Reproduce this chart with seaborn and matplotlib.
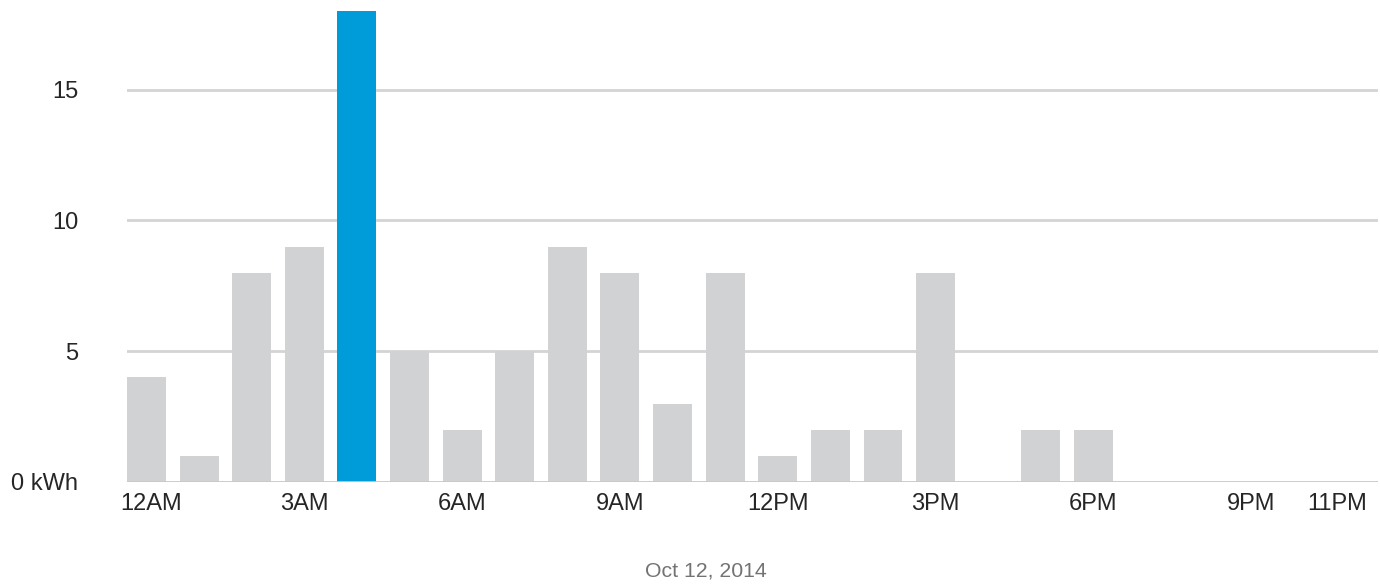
import matplotlib
matplotlib.use("Agg")
import matplotlib.pyplot as plt
import matplotlib.transforms as mtransforms
import seaborn as sns
import pandas as pd

hours = list(range(24))
kwh = [4, 1, 8, 9, 18, 5, 2, 5, 9, 8, 3, 8, 1, 2, 2, 8, 0, 2, 2, 0, 0, 0, 0, 0]
highlight_hour = 4
tick_hours = [0, 3, 6, 9, 12, 15, 18, 21, 23]
tick_labels = ["12AM", "3AM", "6AM", "9AM", "12PM", "3PM", "6PM", "9PM", "11PM"]
y_ticks = [0, 5, 10, 15]
y_labels = ["0 kWh", "5", "10", "15"]
date_label = "Oct 12, 2014"

GRAY = "#d1d2d4"
BLUE = "#009bd9"

sns.set_theme(style="white")
plt.rcParams["font.family"] = ["Liberation Sans", "DejaVu Sans"]

df = pd.DataFrame({"hour": [str(h) for h in hours], "kwh": kwh})
palette = {str(h): (BLUE if h == highlight_hour else GRAY) for h in hours}

fig = plt.figure(figsize=(13.8, 5.85), dpi=100)
ax = fig.add_axes([127 / 1380, 1 - 482 / 585, (1378 - 127) / 1380, (482 - 11) / 585])

sns.barplot(data=df, x="hour", y="kwh", hue="hour", palette=palette,
            legend=False, width=0.74, saturation=1, ax=ax, zorder=3,
            linewidth=0)

ax.set_xlim(-0.37, 23.41)
ax.set_ylim(0, 18)

for y in y_ticks[1:]:
    ax.axhline(y, color="#d4d4d6", lw=2, zorder=1)
ax.axhline(0, color="#c8c8ca", lw=2, zorder=4)

ax.set_yticks(y_ticks)
ax.set_yticklabels(y_labels, fontsize=17, color="#262626")
ax.tick_params(axis="y", length=0, pad=35)

ax.set_xticks(tick_hours)
ax.set_xticklabels(tick_labels, fontsize=17, color="#262626")
ax.tick_params(axis="x", length=0, pad=8)
# nudge the end labels inward like the reference
xl = ax.get_xticklabels()
xl[0].set_transform(xl[0].get_transform() + mtransforms.ScaledTranslation(5 / 100, 0, fig.dpi_scale_trans))
xl[-1].set_transform(xl[-1].get_transform() + mtransforms.ScaledTranslation(-19 / 100, 0, fig.dpi_scale_trans))

ax.set_xlabel("")
ax.set_ylabel("")
for s in ax.spines.values():
    s.set_visible(False)

fig.text(706 / 1380, 1 - 571 / 585, date_label, ha="center", va="center",
         fontsize=15.3, color="#737373")

fig.savefig("out.png", dpi=100)
